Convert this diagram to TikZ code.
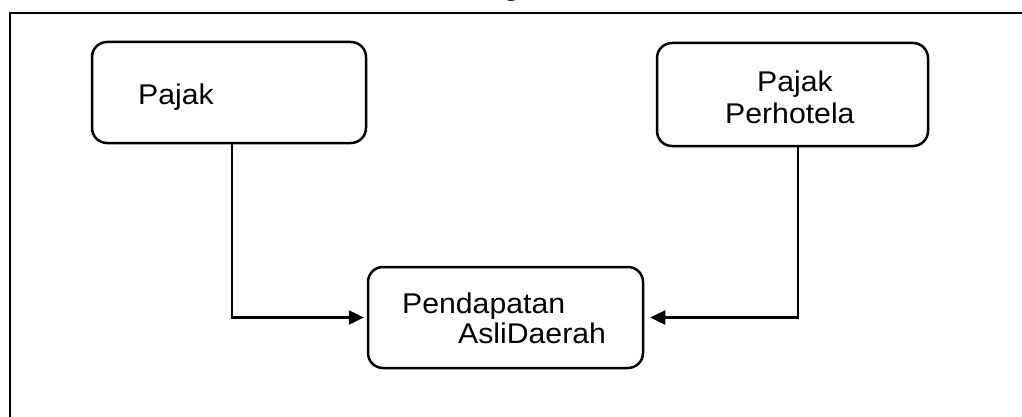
\documentclass[tikz,border=0pt]{standalone}
\usepackage{fontspec}
\setmainfont{Liberation Sans}[FakeStretch=1.06]
\usetikzlibrary{arrows.meta}
\begin{document}
\begin{tikzpicture}[x=1pt,y=-1pt,
  box/.style={draw=black,line width=2.5pt,rounded corners=15pt,inner sep=0pt},
  lbl/.style={anchor=base west,inner sep=0pt,font=\fontsize{28.5pt}{31pt}\selectfont},
  conn/.style={line width=2.5pt,-{Triangle[length=15pt,width=14pt]}},
  frame/.style={line width=2.5pt}]
\useasboundingbox (0,0) rectangle (1022,417);
% outer frame (extends past the picture)
\draw[frame] (10,440) -- (10,13) -- (1040,13);
% cut-off title
\node[lbl,anchor=base west] (title) at (503,-4.5) {g};
% boxes
\node[box,minimum width=274pt,minimum height=101pt] (b1) at (229,92.5) {};
\node[box,minimum width=271pt,minimum height=103pt] (b2) at (792.5,94.5) {};
\node[box,minimum width=275pt,minimum height=101pt] (b3) at (505.5,317.5) {};
% labels
\node[lbl] (t1) at (138,105) {Pajak};
\node[lbl] (t2a) at (757,92) {Pajak};
\node[lbl] (t2b) at (725,124) {Perhotela};
\node[lbl] (t3a) at (402,313) {Pendapatan};
\node[lbl] (t3b) at (458,343) {AsliDaerah};
% connectors
\draw[conn,shorten >=3pt] ([xshift=3pt]b1.south) |- (b3.west);
\draw[conn,shorten >=6pt] ([xshift=5.5pt]b2.south) |- (b3.east);
\end{tikzpicture}
\end{document}
